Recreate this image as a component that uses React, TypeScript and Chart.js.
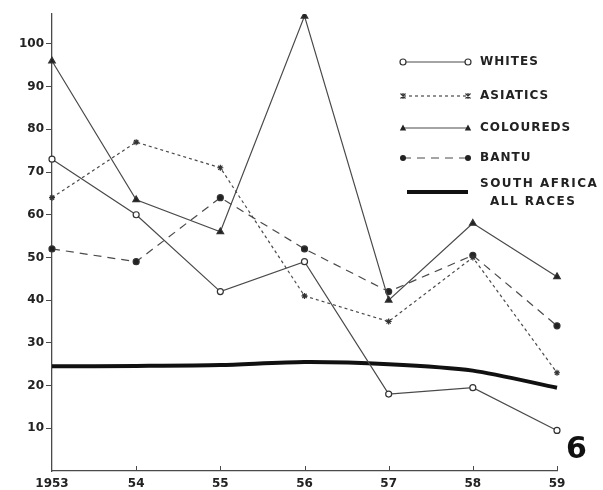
import React, { useEffect, useRef } from "react";
import { Chart, registerables } from "chart.js";

Chart.register(...registerables);

const years = ["1953", "54", "55", "56", "57", "58", "59"];
const yTickValues = [10, 20, 30, 40, 50, 60, 70, 80, 90, 100];
const whites = [73, 60, 42, 49, 18, 19.5, 9.5];
const asiatics = [64, 77, 71, 41, 35, 50, 23];
const coloureds = [96, 63.5, 56, 106.5, 40, 58, 45.5];
const bantu = [52, 49, 64, 52, 42, 50.5, 34];
const southAfrica = [24.5, 24.6, 24.8, 25.5, 25, 23.5, 19.5];
const legendLabels = ["WHITES", "ASIATICS", "COLOUREDS", "BANTU", "SOUTH AFRICA", "ALL RACES"];

const INK = "#4a4a4a";
const FONT = "'DejaVu Sans', sans-serif";

function marker(ctx: CanvasRenderingContext2D, kind: string, x: number, y: number) {
  ctx.save();
  ctx.setLineDash([]);
  ctx.lineWidth = 1.2;
  ctx.strokeStyle = "#333";
  ctx.fillStyle = "#222";
  if (kind === "openCircle") {
    ctx.beginPath();
    ctx.arc(x, y, 3, 0, Math.PI * 2);
    ctx.fillStyle = "#fff";
    ctx.fill();
    ctx.stroke();
  } else if (kind === "dot") {
    ctx.beginPath();
    ctx.arc(x, y, 3, 0, Math.PI * 2);
    ctx.fill();
  } else if (kind === "triangle") {
    ctx.beginPath();
    ctx.moveTo(x, y - 3.5);
    ctx.lineTo(x + 3.2, y + 2.5);
    ctx.lineTo(x - 3.2, y + 2.5);
    ctx.closePath();
    ctx.fill();
  } else if (kind === "star") {
    ctx.beginPath();
    ctx.moveTo(x - 2.5, y - 2.5);
    ctx.lineTo(x + 2.5, y + 2.5);
    ctx.moveTo(x + 2.5, y - 2.5);
    ctx.lineTo(x - 2.5, y + 2.5);
    ctx.moveTo(x, y - 3);
    ctx.lineTo(x, y + 3);
    ctx.stroke();
  }
  ctx.restore();
}

const decorPlugin = {
  id: "decor",
  afterDraw(chart: any) {
    const ctx: CanvasRenderingContext2D = chart.ctx;
    const xs = chart.scales.x;
    const area = chart.chartArea;
    ctx.save();
    ctx.strokeStyle = INK;
    ctx.lineWidth = 1;
    years.forEach((_, i) => {
      if (i === 0) return;
      const px = Math.round(xs.getPixelForValue(i)) + 0.5;
      ctx.beginPath();
      ctx.moveTo(px, area.bottom);
      ctx.lineTo(px, area.bottom - 5);
      ctx.stroke();
    });
    ctx.restore();

    const x0 = 403;
    const x1 = 468;
    const tx = 480;
    const rows = [
      { y: 62, kind: "openCircle", dash: [] as number[] },
      { y: 96, kind: "star", dash: [3, 3] },
      { y: 128, kind: "triangle", dash: [] as number[] },
      { y: 158, kind: "dot", dash: [8, 6] },
    ];
    ctx.save();
    rows.forEach((r, i) => {
      ctx.beginPath();
      ctx.setLineDash(r.dash);
      ctx.strokeStyle = INK;
      ctx.lineWidth = 1.2;
      ctx.moveTo(x0, r.y);
      ctx.lineTo(x1, r.y);
      ctx.stroke();
      marker(ctx, r.kind, x0, r.y);
      marker(ctx, r.kind, x1, r.y);
      ctx.setLineDash([]);
      ctx.fillStyle = "#222";
      ctx.font = `bold 12px ${FONT}`;
      (ctx as any).letterSpacing = "1px";
      ctx.textBaseline = "middle";
      ctx.textAlign = "left";
      ctx.fillText(legendLabels[i], tx, r.y);
    });
    ctx.beginPath();
    ctx.setLineDash([]);
    ctx.strokeStyle = "#111";
    ctx.lineWidth = 4;
    ctx.moveTo(407, 192);
    ctx.lineTo(468, 192);
    ctx.stroke();
    ctx.fillStyle = "#222";
    ctx.font = `bold 12px ${FONT}`;
    (ctx as any).letterSpacing = "1.5px";
    ctx.textBaseline = "middle";
    ctx.fillText(legendLabels[4], tx, 184);
    ctx.fillText(legendLabels[5], tx + 10, 202);
    ctx.restore();
  },
};

export default function App() {
  const ref = useRef<HTMLCanvasElement | null>(null);
  useEffect(() => {
    if (!ref.current) return;
    const series = (label: string, data: number[], style: string, dash: number[], open = false) => ({
      label,
      data,
      borderColor: INK,
      borderWidth: 1.2,
      borderDash: dash,
      backgroundColor: "#222",
      pointBackgroundColor: open ? "#fff" : "#222",
      pointBorderColor: "#333",
      pointBorderWidth: 1.2,
      pointStyle: style,
      pointRadius: style === "triangle" ? 3.8 : 3,
      tension: 0,
    });
    const chart = new Chart(ref.current, {
      type: "line",
      data: {
        labels: years,
        datasets: [
          series("WHITES", whites, "circle", [], true),
          series("ASIATICS", asiatics, "star", [3, 3]),
          series("COLOUREDS", coloureds, "triangle", []),
          series("BANTU", bantu, "circle", [8, 6]),
          {
            label: "SOUTH AFRICA ALL RACES",
            data: southAfrica,
            borderColor: "#111",
            borderWidth: 4,
            pointRadius: 0,
            tension: 0.25,
          },
        ],
      },
      options: {
        animation: false,
        responsive: false,
        devicePixelRatio: 1,
        layout: { padding: { top: 14, right: 46, left: 0, bottom: 0 } },
        plugins: { legend: { display: false }, tooltip: { enabled: false } },
        scales: {
          x: {
            offset: false,
            afterFit: (s: any) => {
              s.height = 19;
            },
            border: { display: true, color: INK, width: 1.3 },
            grid: { display: false, drawOnChartArea: false, drawTicks: false },
            ticks: {
              color: "#222",
              font: { family: FONT, size: 12, weight: "bold" },
              padding: 6,
              maxRotation: 0,
              autoSkip: false,
            },
          },
          y: {
            min: 0,
            max: 107,
            afterFit: (s: any) => {
              s.width = 52;
            },
            afterBuildTicks: (s: any) => {
              s.ticks = yTickValues.map((v) => ({ value: v }));
            },
            border: { display: true, color: INK, width: 1.3 },
            grid: { display: true, drawOnChartArea: false, drawTicks: true, tickLength: 6, color: INK },
            ticks: {
              color: "#222",
              font: { family: FONT, size: 12, weight: "bold" },
              padding: 2,
            },
          },
        },
      },
      plugins: [decorPlugin],
    } as any);
    return () => chart.destroy();
  }, []);
  return (
    <div style={{ position: "absolute", left: 0, top: 0, width: 603, height: 490, background: "#fff" }}>
      <canvas ref={ref} width={603} height={490} />
      <div
        style={{
          position: "absolute",
          left: 566,
          top: 431,
          fontFamily: FONT,
          fontWeight: "bold",
          fontSize: 30,
          color: "#111",
          lineHeight: "34px",
        }}
      >
        6
      </div>
    </div>
  );
}
